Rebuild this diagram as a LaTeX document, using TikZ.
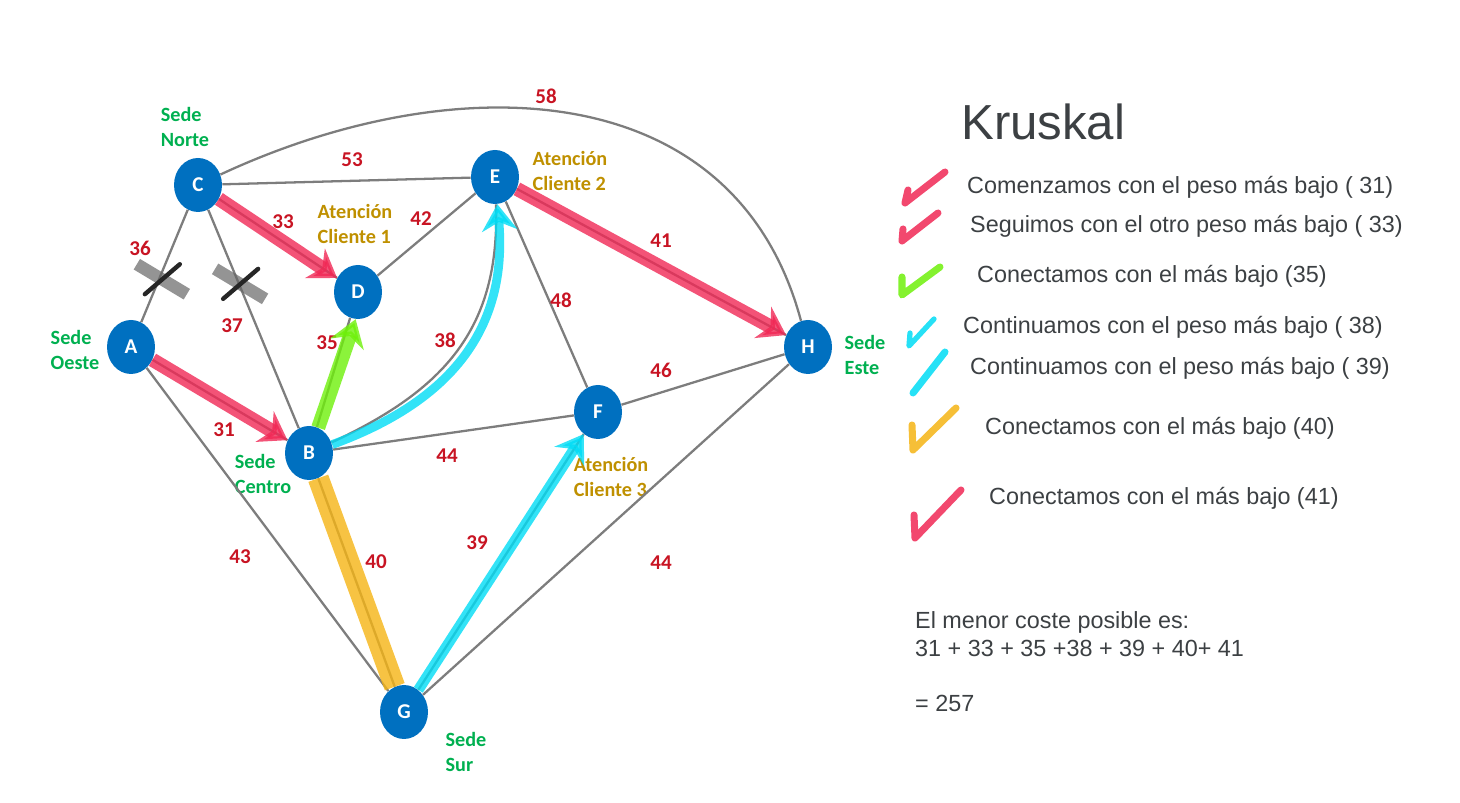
\documentclass[tikz,border=0pt]{standalone}
\usepackage{fontspec}
\setmainfont{Liberation Sans}
\newfontfamily\graphfont{Carlito}
\usetikzlibrary{arrows.meta,shapes.geometric}
\definecolor{nodeblue}{RGB}{0,112,192}
\definecolor{edgegray}{RGB}{125,125,125}
\definecolor{weightred}{RGB}{200,20,35}
\definecolor{sedegreen}{RGB}{0,176,80}
\definecolor{clientgold}{RGB}{191,144,0}
\definecolor{textgray}{RGB}{60,64,67}
\definecolor{hlred}{RGB}{240,40,85}
\definecolor{hlgreen}{RGB}{110,240,10}
\definecolor{hlcyan}{RGB}{0,220,245}
\definecolor{hlorange}{RGB}{245,180,20}
\tikzset{% common styles of the graph elements
  vertex/.style   = {shape=ellipse, fill=nodeblue, text=white, inner sep=0pt,
                     minimum width=0.96cm, minimum height=1.08cm,
                     font=\graphfont\bfseries\fontsize{12}{14}\selectfont},
  weight/.style   = {text=weightred, font=\graphfont\bfseries\fontsize{12}{14}\selectfont},
  place/.style    = {align=left, font=\graphfont\bfseries\fontsize{11.5}{14.5}\selectfont},
  sede/.style     = {place, text=sedegreen},
  client/.style   = {place, text=clientgold},
  road/.style     = {draw=edgegray, line width=1.3pt},
  chosen/.style   = {line width=8pt, opacity=0.8, -{Stealth[length=15pt,width=20pt]}},
  tick/.style     = {line width=4pt, line cap=round, line join=round, opacity=0.85},
  steptext/.style = {anchor=west, text=textgray, font=\fontsize{13.3}{16}\selectfont},
}

\begin{document}
\begin{tikzpicture}[x=0.02cm, y=0.02cm]
    \useasboundingbox (0,0) rectangle (1460,803);
    % vertices
    \node[vertex] (C) at (198,618) {C};
    \node[vertex] (E) at (495,626) {E};
    \node[vertex] (D) at (358,511) {D};
    \node[vertex] (A) at (131,456) {A};
    \node[vertex] (H) at (808,456) {H};
    \node[vertex] (F) at (598,391) {F};
    \node[vertex] (B) at (309,350) {B};
    \node[vertex] (G) at (404,91)  {G};
    % names of the places
    \node[sede]   (nNorte)  at (185,676) {Sede\\Norte};
    \node[sede]   (nOeste)  at (75,453)  {Sede\\Oeste};
    \node[sede]   (nCentro) at (263,329) {Sede\\Centro};
    \node[sede]   (nSur)    at (466,51)  {Sede\\Sur};
    \node[sede]   (nEste)   at (865,448) {Sede\\Este};
    \node[client] (nCli1)   at (355,579) {Atención\\Cliente 1};
    \node[client] (nCli2)   at (570,632) {Atención\\Cliente 2};
    \node[client] (nCli3)   at (611,326) {Atención\\Cliente 3};
    % roads
    \draw[road] (C) -- (E);
    \draw[road] (C) -- (A);
    \draw[road] (C) -- (B);
    \draw[road] (C) -- (D);
    \draw[road] (C) to[out=25, in=105, looseness=1.1] (H);
    \draw[road] (E) -- (D);
    \draw[road] (B) to[out=25, in=-88, looseness=1.1] (E);
    \draw[road] (E) -- (F);
    \draw[road] (E) -- (H);
    \draw[road] (A) -- (B);
    \draw[road] (A) -- (G);
    \draw[road] (B) -- (D);
    \draw[road] (B) -- (F);
    \draw[road] (B) -- (G);
    \draw[road] (F) -- (H);
    \draw[road] (F) -- (G);
    \draw[road] (G) -- (H);
    % weights
    \node[weight] (w53) at (352,643) {53};
    \node[weight] (w36) at (140,555) {36};
    \node[weight] (w37) at (232,477) {37};
    \node[weight] (w33) at (283,581) {33};
    \node[weight] (w58) at (546,707) {58};
    \node[weight] (w42) at (421,584) {42};
    \node[weight] (w38) at (445,463) {38};
    \node[weight] (w48) at (561,503) {48};
    \node[weight] (w41) at (661,562) {41};
    \node[weight] (w31) at (224,373) {31};
    \node[weight] (w43) at (240,246) {43};
    \node[weight] (w35) at (327,460) {35};
    \node[weight] (w44a) at (447,347) {44};
    \node[weight] (w40) at (376,241) {40};
    \node[weight] (w46) at (661,433) {46};
    \node[weight] (w39) at (477,260) {39};
    \node[weight] (w44b) at (661,240) {44};
    % discarded roads
    \path (C) -- (A) coordinate[pos=0.6] (xCA);
    \path (C) -- (B) coordinate[pos=0.33] (xCB);
    \foreach \c in {xCA, xCB} {
        \draw[line width=7pt, black!60, opacity=0.7] ([shift={(-23,13)}]\c) -- ([shift={(27,-17)}]\c);
        \draw[line width=2.5pt, black!85, line cap=round] ([shift={(-15,-17)}]\c) -- ([shift={(20,13)}]\c);
    }
    % chosen roads, in the order of the algorithm
    \draw[chosen, hlred]   (A) -- (B);
    \draw[chosen, hlred]   (C) -- (D);
    \draw[chosen, hlgreen] (B.70) -- (D.-95);
    \draw[chosen, hlcyan, line width=5pt] (B) to[out=20, in=-85, looseness=1.1] (E);
    \draw[chosen, hlcyan, line width=6pt] (G) -- (F);
    \draw[chosen, hlorange, line width=12pt, -] (B) -- (G);
    \draw[chosen, hlred]   (E) -- (H);
    % steps of the algorithm
    \node[steptext, font=\fontsize{28}{32}\selectfont] (title) at (955,681) {Kruskal};
    \node[steptext] (s1) at (961,616) {Comenzamos con el peso más bajo ( 31)};
    \node[steptext] (s2) at (964,577) {Seguimos con el otro peso más bajo ( 33)};
    \node[steptext] (s3) at (971,527) {Conectamos con el más bajo (35)};
    \node[steptext] (s4) at (957,476) {Continuamos con el peso más bajo ( 38)};
    \node[steptext] (s5) at (964,435) {Continuamos con el peso más bajo ( 39)};
    \node[steptext] (s6) at (979,375) {Conectamos con el más bajo (40)};
    \node[steptext] (s7) at (983,305) {Conectamos con el más bajo (41)};
    \draw[tick, hlred]    (908,613) -- (905,600) -- (945,631);
    \draw[tick, hlred]    (903,574) -- (902,562) -- (938,590);
    \draw[tick, hlgreen]  (902,526) -- (902,508) -- (940,536);
    \draw[tick, hlcyan, line width=3pt] (910,470) -- (909,457) -- (934,484);
    \draw[tick, hlcyan]   (913,410) -- (945,451);
    \draw[tick, hlorange] (912,378) -- (913,353) -- (956,395);
    \draw[tick, hlred]    (914,288) -- (915,265) -- (961,313);
    % total cost
    \node[steptext] (sum1) at (909,181) {El menor coste posible es:};
    \node[steptext] (sum2) at (909,155) {31 + 33 + 35 +38 + 39 + 40+ 41};
    \node[steptext] (sum3) at (909,100) {= 257};
\end{tikzpicture}
\end{document}
